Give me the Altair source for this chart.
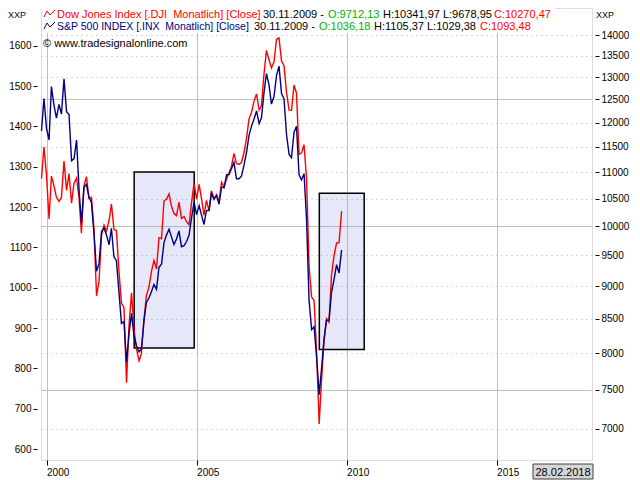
import altair as alt
import pandas as pd

# ---------------- data ----------------
months = pd.date_range("1999-11-01", "2009-11-01", freq="MS").strftime("%Y-%m-%d").tolist()

dow = [
    10877.81, 11497.12,
    10940.53, 10128.31, 10921.92, 10733.91, 10522.33, 10447.89, 10521.98, 11215.10, 10650.92, 10971.14, 10414.49, 10787.99,
    10887.36, 10495.28, 9878.78, 10734.97, 10911.94, 10502.40, 10522.81, 9949.75, 8847.56, 9075.14, 9851.56, 10021.50,
    9920.00, 10106.13, 10403.94, 9946.22, 9925.25, 9243.26, 8736.59, 8663.50, 7591.93, 8397.03, 8896.09, 8341.63,
    8053.81, 7891.08, 7992.13, 8480.09, 8850.26, 8985.44, 9233.80, 9415.82, 9275.06, 9801.12, 9782.46, 10453.92,
    10488.07, 10583.92, 10357.70, 10225.57, 10188.45, 10435.48, 10139.71, 10173.92, 10080.27, 10027.47, 10428.02, 10783.01,
    10489.94, 10766.23, 10503.76, 10192.51, 10467.48, 10274.97, 10640.91, 10481.60, 10568.70, 10440.07, 10805.87, 10717.50,
    10864.86, 10993.41, 11109.32, 11367.14, 11168.31, 11150.22, 11185.68, 11381.15, 11679.07, 12080.73, 12221.93, 12463.15,
    12621.69, 12268.63, 12354.35, 13062.91, 13627.64, 13408.62, 13211.99, 13357.74, 13895.63, 13930.01, 13371.72, 13264.82,
    12650.36, 12266.39, 12262.89, 12820.13, 12638.32, 11350.01, 11378.02, 11543.55, 10850.66, 9325.01, 8829.04, 8776.39,
    8000.86, 7062.93, 7608.92, 8168.12, 8500.33, 8447.00, 9171.61, 9496.28, 9712.28, 9712.73, 10270.47,
]

spx = [
    1388.91, 1469.25,
    1394.46, 1366.42, 1498.58, 1452.43, 1420.60, 1454.60, 1430.83, 1517.68, 1436.51, 1429.40, 1314.95, 1320.28,
    1366.01, 1239.94, 1160.33, 1249.46, 1255.82, 1224.42, 1211.23, 1133.58, 1040.94, 1059.78, 1139.45, 1148.08,
    1130.20, 1106.73, 1147.39, 1076.92, 1067.14, 989.82, 911.62, 916.07, 815.28, 885.76, 936.31, 879.82,
    855.70, 841.15, 848.18, 916.92, 963.59, 974.50, 990.31, 1008.01, 995.97, 1050.71, 1058.20, 1111.92,
    1131.13, 1144.94, 1126.21, 1107.30, 1120.68, 1140.84, 1101.72, 1104.24, 1114.58, 1130.20, 1173.82, 1211.92,
    1181.27, 1203.60, 1180.59, 1156.85, 1191.50, 1191.33, 1234.18, 1220.33, 1228.81, 1207.01, 1249.48, 1248.29,
    1280.08, 1280.66, 1294.83, 1310.61, 1270.09, 1270.20, 1276.66, 1303.82, 1335.85, 1377.94, 1400.63, 1418.30,
    1438.24, 1406.82, 1420.86, 1482.37, 1530.62, 1503.35, 1455.27, 1473.99, 1526.75, 1549.38, 1481.14, 1468.36,
    1378.55, 1330.63, 1322.70, 1385.59, 1400.38, 1280.00, 1267.38, 1282.83, 1166.36, 968.75, 896.24, 903.25,
    825.88, 735.09, 797.87, 872.81, 919.14, 919.32, 987.48, 1020.62, 1057.08, 1036.19, 1093.48,
]

box_start = ["2002-12-03", "2009-02-03"]
box_end = ["2004-12-03", "2010-08-03"]
box_low = [8070, 8050]
box_high = [11000, 10600]

left_ticks = list(range(600, 1700, 100))
right_ticks = list(range(7000, 14500, 500))
year_ticks = [2000, 2005, 2010, 2015]

df = pd.DataFrame({"date": months, "dow": dow, "spx": spx})
boxes = pd.DataFrame({"start": box_start, "end": box_end, "low": box_low, "high": box_high})
one = pd.DataFrame({"k": [0]})

FONT = "Liberation Sans"

# ---------------- scales / axes ----------------
x_scale = alt.Scale(domain=[alt.DateTime(year=1999, month=10, date=26),
                            alt.DateTime(year=2018, month=3, date=7)])
x_axis = alt.Axis(values=[alt.DateTime(year=y, month=1, date=1) for y in year_ticks],
                  format="%Y", labelAlign="left", labelPadding=2, tickSize=5,
                  domain=False, grid=True, gridColor="#b4c8b4", gridWidth=1,
                  labelFontSize=10, labelColor="black", tickColor="black",
                  labelFlush=False, labelOverlap=False, title=None, labelFont=FONT)

r_scale = alt.Scale(type="log", domain=[6628, 14682], nice=False, zero=False)
r_axis = alt.Axis(orient="right", values=right_ticks, format="d", offset=3, tickSize=4,
                  labelPadding=2, domain=False, grid=True,
                  gridColor={"condition": {"test": "datum.value % 2500 === 0", "value": "#b4c8b4"},
                             "value": "#a8bca8"},
                  gridDash={"condition": {"test": "datum.value % 2500 === 0", "value": []},
                            "value": [1, 4]},
                  labelFontSize=10, labelColor="black", tickColor="black",
                  labelOverlap=False, title=None, labelFont=FONT)

l_scale = alt.Scale(domain=[573, 1693.5], nice=False, zero=False)
l_axis = alt.Axis(orient="left", values=left_ticks, format="d", offset=4, tickSize=4,
                  labelPadding=2, domain=False, grid=False,
                  labelFontSize=10, labelColor="black", tickColor="black",
                  labelOverlap=False, title=None, labelFont=FONT)

X = alt.X("date:T", scale=x_scale, axis=x_axis)

# ---------------- right (Dow, log) group ----------------
rects = alt.Chart(boxes).mark_rect(fill="#7878e6", fillOpacity=0.18, stroke="black",
                                   strokeWidth=1.5).encode(
    x=alt.X("start:T", scale=x_scale, axis=x_axis),
    x2="end:T",
    y=alt.Y("low:Q", scale=r_scale, axis=r_axis),
    y2="high:Q",
)
dow_line = alt.Chart(df).mark_line(color="#ff0000", strokeWidth=1.4).encode(
    x=X, y=alt.Y("dow:Q", scale=r_scale, axis=r_axis)
)
right_group = alt.layer(rects, dow_line)

# ---------------- left (S&P, linear) group + annotations ----------------
spx_line = alt.Chart(df).mark_line(color="#000080", strokeWidth=1.4).encode(
    x=X, y=alt.Y("spx:Q", scale=l_scale, axis=l_axis)
)


def txt(s, x, y, color, size=11, align="left"):
    return alt.Chart(one).mark_text(text=s, align=align, baseline="alphabetic",
                                    fontSize=size, color=color, font=FONT).encode(
        x=alt.value(x), y=alt.value(y))


def box(x1, x2, y1, y2, fill, stroke=None):
    kw = {"fill": fill}
    if stroke:
        kw.update(stroke=stroke, strokeWidth=1)
    return alt.Chart(one).mark_rect(**kw).encode(
        x=alt.value(x1), x2=alt.value(x2), y=alt.value(y1), y2=alt.value(y2))


def seg(x1, y1, x2, y2, color):
    return alt.Chart(one).mark_rule(color=color, strokeWidth=1).encode(
        x=alt.value(x1), y=alt.value(y1), x2=alt.value(x2), y2=alt.value(y2))


RED, NAVY, GREEN, BLACK = "#ff0000", "#000080", "#00b000", "#000000"

L1, L2 = 10, 22

annos = [
    box(1, 514, 0, 12.5, "white"),
    box(1, 492, 12.5, 25, "white"),
    seg(3, L1 - 1, 6, L1 - 7, RED), seg(6, L1 - 7, 9, L1 - 3, RED), seg(9, L1 - 3, 14, L1 - 8, RED),
    seg(3, L2 - 1, 6, L2 - 7, NAVY), seg(6, L2 - 7, 9, L2 - 3, NAVY), seg(9, L2 - 3, 14, L2 - 8, NAVY),
    txt("Dow Jones Index [.DJI\u00a0 Monatlich] [Close]", 16, L1, RED),
    txt("30.11.2009 -", 222, L1, BLACK),
    txt("O:9712,13", 287, L1, GREEN),
    txt("H:10341,97 L:9678,95", 342, L1, BLACK),
    txt("C:10270,47", 453, L1, RED),
    txt("S&P 500 INDEX [.INX\u00a0 Monatlich] [Close]", 16, L2, NAVY, size=10.5),
    txt("30.11.2009 -", 213, L2, BLACK),
    txt("O:1036,18", 278, L2, GREEN),
    txt("H:1105,37 L:1029,38", 333, L2, BLACK),
    txt("C:1093,48", 439, L2, RED),
    txt("\u00a9 www.tradesignalonline.com", 2, 38.5, BLACK),
    txt("XXP", -33, 10, "#000030", size=9),
    txt("XXP", 555, 10, "#000030", size=9),
    box(492, 552, 456, 471, "#d6d6d6", stroke="#404040"),
    txt("28.02.2018", 522, 468, BLACK, size=11, align="center"),
]

left_group = alt.layer(spx_line, *annos)

chart = alt.layer(right_group, left_group).resolve_scale(y="independent").properties(
    width=551, height=452,
    autosize=alt.AutoSizeParams(type="none"),
    padding={"left": 33, "top": 0, "right": 40, "bottom": 20},
).configure_view(
    fill="#f5f5f5", stroke="black", strokeWidth=1.5
).configure(font=FONT)

chart.save("out.html", embed_options={"renderer": "svg", "actions": False})
